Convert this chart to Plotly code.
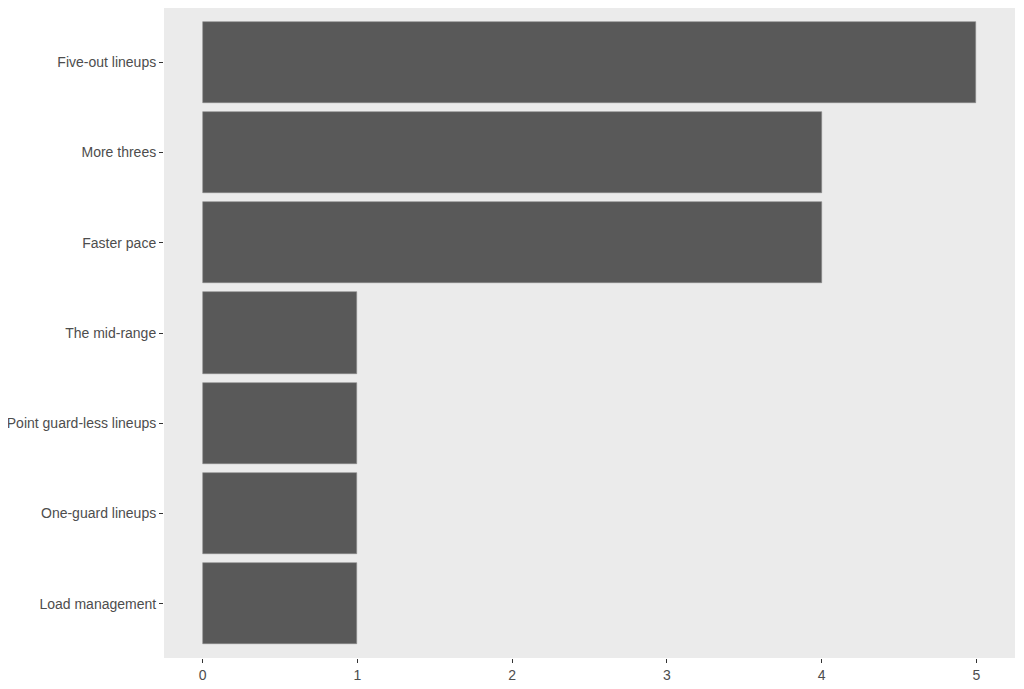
import plotly.graph_objects as go

trends = ["Five-out lineups", "More threes", "Faster pace", "The mid-range",
          "Point guard-less lineups", "One-guard lineups", "Load management"]
counts = [5, 4, 4, 1, 1, 1, 1]
x_ticks = [0, 1, 2, 3, 4, 5]

# bottom-to-top order for the y axis
order = trends[::-1]

fig = go.Figure()
fig.add_trace(go.Bar(
    x=counts,
    y=trends,
    orientation="h",
    width=0.9,
    marker=dict(color="#595959", line=dict(color="#8a8a8a", width=0.6)),
    hoverinfo="x+y",
))

tick_font = dict(family="Liberation Sans, Arial, sans-serif", size=14, color="#4d4d4d")

# page body has an 8px margin, so the figure is sized to fit inside it
fig.update_layout(
    width=1016,
    height=681,
    margin=dict(l=156, r=9, t=0, b=31),
    paper_bgcolor="white",
    plot_bgcolor="#ebebeb",
    showlegend=False,
    bargap=0,
    xaxis=dict(
        range=[-0.25, 5.25],
        tickvals=x_ticks,
        showgrid=False,
        zeroline=False,
        ticks="outside",
        ticklen=4,
        tickwidth=1.2,
        tickcolor="#333333",
        tickfont=tick_font,
        fixedrange=True,
    ),
    yaxis=dict(
        categoryorder="array",
        categoryarray=order,
        range=[-0.6, 6.6],
        showgrid=False,
        zeroline=False,
        ticks="outside",
        ticklen=4,
        tickwidth=1.2,
        tickcolor="#333333",
        tickfont=tick_font,
        fixedrange=True,
    ),
)

fig.write_html("out.html")
